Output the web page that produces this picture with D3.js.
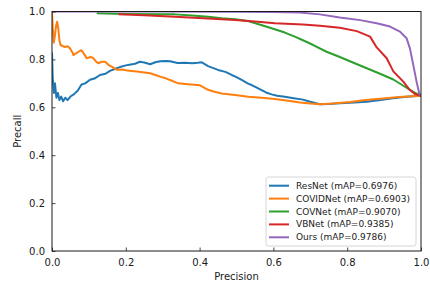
<!DOCTYPE html>
<html>
<head>
<meta charset="utf-8">
<script src="https://cdn.jsdelivr.net/npm/d3@7"></script>
<style>
  body { margin: 0; background: #fff; }
  text { font-family: "DejaVu Sans", sans-serif; fill: #1a1a1a; }
  .axis text { font-size: 10px; }
  .axis line { stroke: #1a1a1a; stroke-width: 0.8; }
  .curve { fill: none; stroke-width: 2; stroke-linejoin: round; }
</style>
</head>
<body>
<svg id="chart"></svg>
<script>
// figure + axes box
var width = 430;
var height = 288;
var margin = {top: 11.5, right: 9, bottom: 37, left: 52};
var w = width - margin.left - margin.right;
var h = height - margin.top - margin.bottom;

var xTicks = [0, 0.2, 0.4, 0.6, 0.8, 1.0];
var yTicks = [0, 0.2, 0.4, 0.6, 0.8, 1.0];

var names = ["ResNet", "COVIDNet", "COVNet", "VBNet", "Ours"];
var maps = ["0.6976", "0.6903", "0.9070", "0.9385", "0.9786"];
var colors = ["#1f77b4", "#ff7f0e", "#2ca02c", "#d62728", "#9467bd"];

// [precision, recall]
var resnet = [[0,0.83],[0.002,0.72],[0.005,0.66],[0.008,0.70],[0.012,0.64],[0.016,0.66],[0.02,0.63],
  [0.025,0.645],[0.03,0.625],[0.036,0.64],[0.042,0.63],[0.05,0.645],[0.06,0.655],[0.07,0.67],
  [0.08,0.695],[0.09,0.70],[0.103,0.715],[0.115,0.72],[0.13,0.735],[0.145,0.74],[0.157,0.752],
  [0.17,0.76],[0.184,0.768],[0.2,0.775],[0.21,0.778],[0.225,0.782],[0.238,0.79],[0.25,0.787],
  [0.266,0.78],[0.28,0.788],[0.293,0.792],[0.31,0.793],[0.32,0.792],[0.34,0.785],[0.36,0.786],
  [0.38,0.784],[0.395,0.786],[0.406,0.788],[0.423,0.772],[0.45,0.756],[0.47,0.748],[0.487,0.735],
  [0.5,0.726],[0.514,0.714],[0.53,0.70],[0.541,0.693],[0.555,0.682],[0.568,0.672],[0.58,0.662],
  [0.595,0.654],[0.61,0.648],[0.631,0.644],[0.655,0.638],[0.68,0.632],[0.70,0.623],[0.726,0.613],
  [0.75,0.614],[0.78,0.617],[0.82,0.62],[0.853,0.623],[0.89,0.63],[0.924,0.638],[0.96,0.644],[1.0,0.648]];

var covidnet = [[0,1.0],[0.002,0.93],[0.005,0.87],[0.008,0.90],[0.011,0.94],[0.014,0.957],[0.017,0.93],
  [0.02,0.88],[0.023,0.86],[0.03,0.855],[0.035,0.852],[0.042,0.855],[0.049,0.846],[0.055,0.83],
  [0.058,0.818],[0.065,0.825],[0.075,0.835],[0.08,0.838],[0.088,0.82],[0.094,0.805],[0.105,0.81],
  [0.112,0.805],[0.12,0.79],[0.125,0.784],[0.135,0.79],[0.144,0.79],[0.155,0.775],[0.162,0.77],
  [0.175,0.757],[0.19,0.758],[0.2,0.755],[0.215,0.752],[0.23,0.749],[0.25,0.745],[0.266,0.742],
  [0.28,0.735],[0.293,0.728],[0.31,0.72],[0.32,0.714],[0.342,0.70],[0.369,0.696],[0.401,0.692],
  [0.423,0.673],[0.44,0.665],[0.46,0.658],[0.496,0.651],[0.532,0.644],[0.568,0.640],[0.604,0.635],
  [0.64,0.627],[0.672,0.62],[0.70,0.616],[0.726,0.613],[0.76,0.616],[0.808,0.622],[0.85,0.63],
  [0.897,0.637],[0.94,0.643],[1.0,0.648]];

var covnet = [[0.121,0.993],[0.2,0.99],[0.3,0.988],[0.333,0.988],[0.38,0.983],[0.423,0.978],
  [0.46,0.972],[0.496,0.968],[0.531,0.96],[0.558,0.948],[0.595,0.93],[0.631,0.912],[0.658,0.895],
  [0.68,0.88],[0.708,0.86],[0.744,0.832],[0.78,0.81],[0.817,0.786],[0.853,0.763],[0.889,0.74],
  [0.925,0.716],[0.952,0.69],[0.979,0.664],[1.0,0.648]];

var vbnet = [[0.18,0.988],[0.25,0.984],[0.333,0.978],[0.423,0.971],[0.496,0.965],[0.558,0.957],
  [0.604,0.951],[0.68,0.946],[0.726,0.941],[0.78,0.932],[0.826,0.918],[0.862,0.895],[0.88,0.85],
  [0.907,0.805],[0.925,0.75],[0.952,0.707],[0.97,0.672],[0.984,0.655],[1.0,0.648]];

var ours = [[0,1.0],[0.3,1.0],[0.5,0.999],[0.6,0.998],[0.672,0.996],[0.726,0.988],[0.78,0.975],
  [0.835,0.964],[0.88,0.951],[0.916,0.937],[0.943,0.916],[0.961,0.888],[0.97,0.846],[0.979,0.777],
  [0.988,0.707],[0.995,0.66],[1.0,0.648]];

var series = [resnet, covidnet, covnet, vbnet, ours];

var svg = d3.select("#chart")
    .attr("width", width)
    .attr("height", height);

var chart = svg.append("g")
    .attr("transform", "translate(" + margin.left + "," + margin.top + ")");

var x = d3.scaleLinear().domain([0, 1]).range([0, w]);
var y = d3.scaleLinear().domain([0, 1]).range([h, 0]);

chart.append("clipPath")
    .attr("id", "clip")
    .append("rect")
    .attr("width", w)
    .attr("height", h);

var line = d3.line()
    .x(function(d) { return x(d[0]); })
    .y(function(d) { return y(d[1]); });

var curves = chart.append("g").attr("clip-path", "url(#clip)");
for (var i = 0; i < series.length; i++) {
    curves.append("path")
        .datum(series[i])
        .attr("class", "curve")
        .attr("stroke", colors[i])
        .attr("d", line);
}

// inward ticks like matplotlib direction='in'
var xAxis = d3.axisBottom(x)
    .tickValues(xTicks)
    .tickFormat(d3.format(".1f"))
    .tickSizeInner(-3.5)
    .tickSizeOuter(0)
    .tickPadding(7.5);

var yAxis = d3.axisLeft(y)
    .tickValues(yTicks)
    .tickFormat(d3.format(".1f"))
    .tickSizeInner(-3.5)
    .tickSizeOuter(0)
    .tickPadding(7);

var gx = chart.append("g")
    .attr("class", "axis")
    .attr("transform", "translate(0," + h + ")")
    .call(xAxis);
gx.select(".domain").remove();

var gy = chart.append("g")
    .attr("class", "axis")
    .call(yAxis);
gy.select(".domain").remove();

chart.append("rect")
    .attr("width", w)
    .attr("height", h)
    .attr("fill", "none")
    .attr("stroke", "#1a1a1a")
    .attr("stroke-width", 1);

chart.append("text")
    .attr("x", w / 2)
    .attr("y", h + 29)
    .attr("text-anchor", "middle")
    .style("font-size", "10px")
    .text("Precision");

svg.append("text")
    .attr("transform", "translate(17," + (margin.top + h / 2) + ") rotate(-90)")
    .attr("text-anchor", "middle")
    .attr("dominant-baseline", "central")
    .style("font-size", "10px")
    .text("Precall");

// legend
var legend = svg.append("g").attr("transform", "translate(266,177)");
legend.append("rect")
    .attr("width", 150)
    .attr("height", 69)
    .attr("rx", 2.5)
    .attr("fill", "#fff")
    .attr("fill-opacity", 0.8)
    .attr("stroke", "#cccccc")
    .attr("stroke-width", 0.8);

for (var i = 0; i < names.length; i++) {
    var ly = 8.7 + i * 12.9;
    legend.append("line")
        .attr("x1", 3).attr("x2", 23)
        .attr("y1", ly).attr("y2", ly)
        .attr("stroke", colors[i])
        .attr("stroke-width", 2);
    legend.append("text")
        .attr("x", 30)
        .attr("y", ly)
        .attr("dominant-baseline", "central")
        .style("font-size", "9px")
        .text(names[i] + " (mAP=" + maps[i] + ")");
}
</script>
</body>
</html>
